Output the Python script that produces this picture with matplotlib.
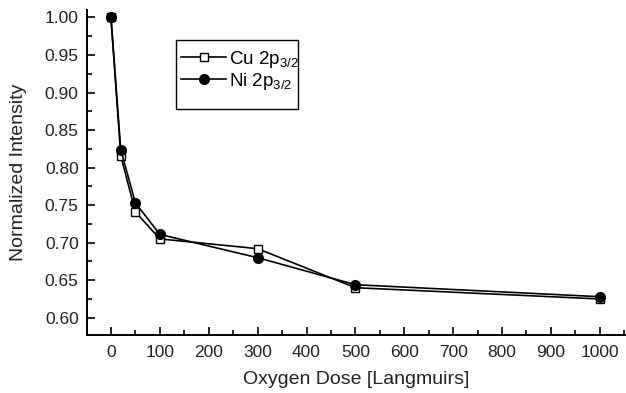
import matplotlib
matplotlib.use("Agg")
import matplotlib.pyplot as plt
from matplotlib.patches import Rectangle
from matplotlib.ticker import MultipleLocator

plt.rcParams['font.family'] = ['Liberation Sans', 'DejaVu Sans']
plt.rcParams['mathtext.default'] = 'regular'

dose = [0, 20, 50, 100, 300, 500, 1000]
cu_intensity = [1.000, 0.816, 0.741, 0.705, 0.692, 0.640, 0.625]
ni_intensity = [1.000, 0.824, 0.753, 0.711, 0.680, 0.644, 0.628]
x_ticks = [0, 100, 200, 300, 400, 500, 600, 700, 800, 900, 1000]
y_ticks = [0.60, 0.65, 0.70, 0.75, 0.80, 0.85, 0.90, 0.95, 1.00]

fig = plt.figure(figsize=(6.26, 3.93), dpi=100)
ax = fig.add_axes([0.139, 0.1476, 0.859, 0.827])

ax.plot(dose, cu_intensity, color='black', lw=1.2, marker='s', ms=6,
        mfc='white', mec='black', mew=1.0, label='Cu 2p$_{3/2}$', zorder=3)
ax.plot(dose, ni_intensity, color='black', lw=1.2, marker='o', ms=7,
        mfc='black', mec='black', label='Ni 2p$_{3/2}$', zorder=4)

ax.set_xlim(-49, 1051)
ax.set_ylim(0.577, 1.010)
ax.set_xticks(x_ticks)
ax.set_yticks(y_ticks)
ax.set_yticklabels([f"{v:.2f}" for v in y_ticks])
ax.xaxis.set_minor_locator(MultipleLocator(50))
ax.yaxis.set_minor_locator(MultipleLocator(0.025))
ax.tick_params(which='both', direction='in', labelsize=12.5, width=1.2, color='black',
               labelcolor='#222222')
ax.tick_params(which='major', length=6)
ax.tick_params(which='minor', length=3.5)
ax.tick_params(axis='x', pad=7)
ax.tick_params(axis='y', pad=6)
for s in ['top', 'right']:
    ax.spines[s].set_visible(False)
for s in ['left', 'bottom']:
    ax.spines[s].set_linewidth(1.4)

ax.set_xlabel('Oxygen Dose [Langmuirs]', fontsize=14, labelpad=8, color='#222222')
ax.set_ylabel('Normalized Intensity', fontsize=14, labelpad=13, color='#222222')

# legend frame drawn separately to keep the extra space below the entries
fig.patches.append(Rectangle((176 / 626, 1 - 109 / 393), 122 / 626, 69 / 393,
                             transform=fig.transFigure, fill=False,
                             edgecolor='black', lw=1.0))
leg = ax.legend(loc='upper left', bbox_to_anchor=(181 / 626, 1 - 49 / 393),
                bbox_transform=fig.transFigure, frameon=False, fontsize=13.5,
                handlelength=2.4, handletextpad=0.15, labelspacing=0.05,
                borderaxespad=0, borderpad=0.0)

fig.savefig('out.png', dpi=100)
